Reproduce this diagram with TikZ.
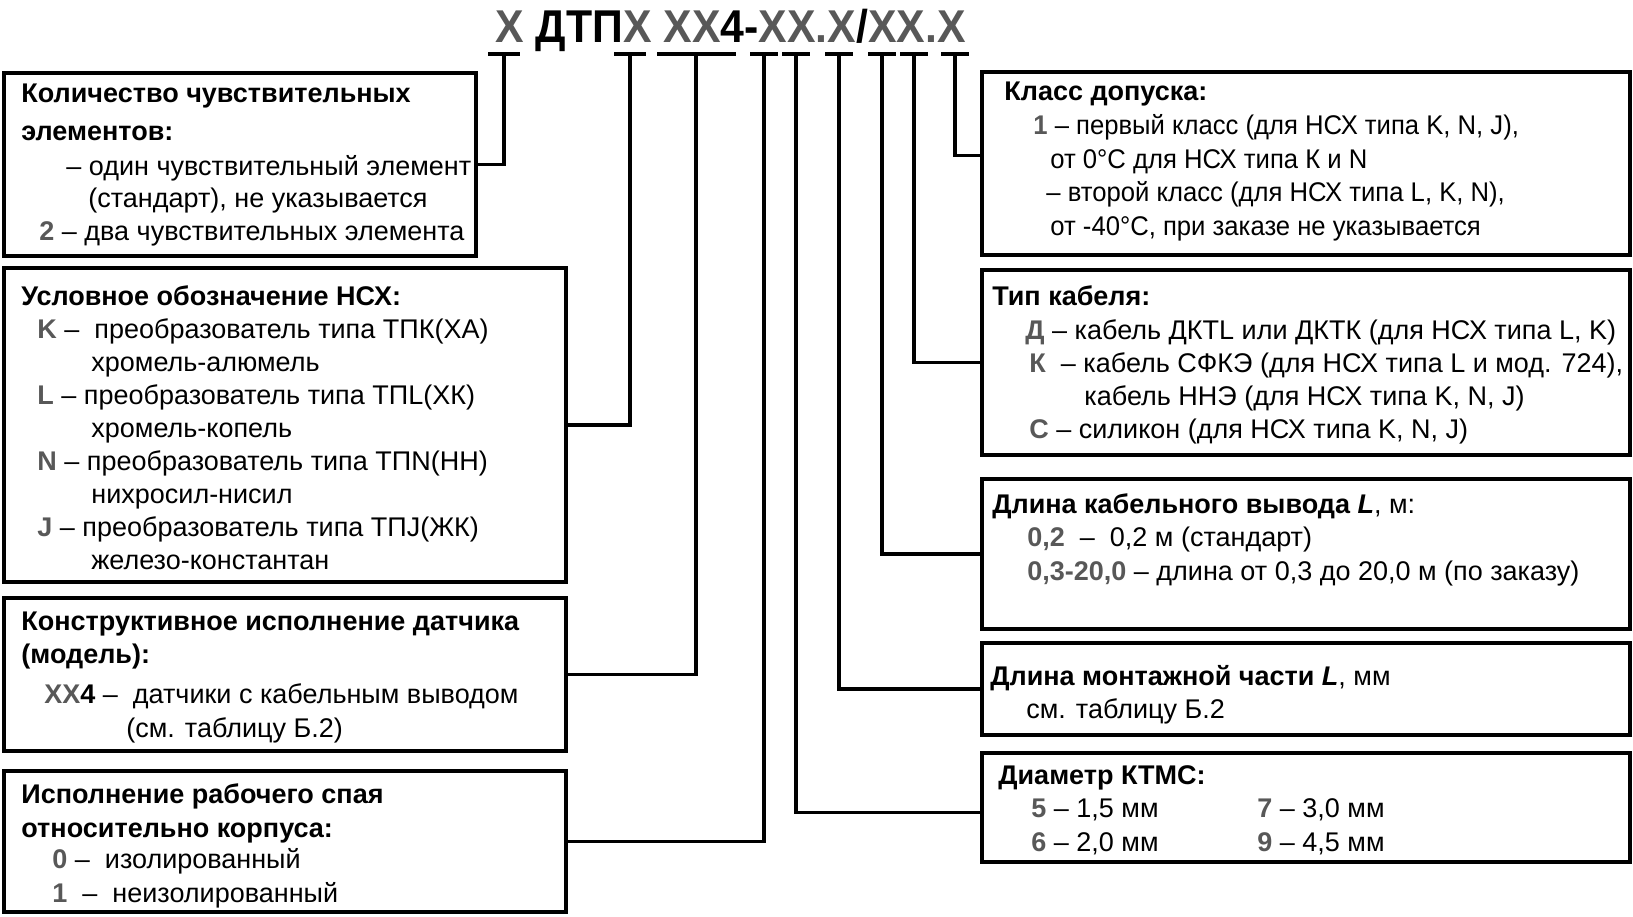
\documentclass[tikz,border=0pt]{standalone}
\usepackage{fontspec}
\setmainfont{Liberation Sans}
\newfontfamily\narrowfont[FakeStretch=0.95]{Liberation Sans}
\newfontfamily\titlefont[FakeStretch=0.93]{Liberation Sans}
\usetikzlibrary{fit}
\definecolor{CodeGray}{RGB}{88,88,88}
\newcommand{\codeval}[1]{\textbf{\textcolor{CodeGray}{#1}}}
\tikzset{
  boxframe/.style={draw=black,line width=1.8pt,inner sep=0pt,outer sep=0pt},
  link/.style={draw=black,line width=1.8pt},
  txt/.style={anchor=base west,inner sep=0pt,font=\fontsize{13.5pt}{15pt}\selectfont},
  head/.style={txt,font=\fontsize{13.5pt}{15pt}\selectfont\bfseries},
  narrowtxt/.style={txt,font=\fontsize{13.5pt}{15pt}\selectfont\narrowfont},
  codetitle/.style={anchor=base west,inner sep=0pt,font=\fontsize{23pt}{26pt}\selectfont\titlefont\bfseries}
}

\begin{document}
\begin{tikzpicture}[x=0.5pt,y=-0.5pt]
  \useasboundingbox (0,0) rectangle (1633,916);

  % order code
  \node[codetitle] (code) at (495,42) {\codeval{X} ДТП\codeval{X} \codeval{XX}4-\codeval{XX.X}/\codeval{XX.X}};
  \coordinate (t1) at (504,54);
  \coordinate (t2) at (630,54);
  \coordinate (t3) at (696,54);
  \coordinate (t4) at (764,54);
  \coordinate (t5) at (796,54);
  \coordinate (t6) at (839,54);
  \coordinate (t7) at (882,54);
  \coordinate (t8) at (914,54);
  \coordinate (t9) at (955,54);
  \draw[link] ([xshift=-8pt]t1) -- ([xshift=8pt]t1);
  \draw[link] ([xshift=-8pt]t2) -- ([xshift=8pt]t2);
  \draw[link] ([xshift=-19.5pt]t3) -- ([xshift=20pt]t3);
  \draw[link] ([xshift=-7pt]t4) -- ([xshift=7pt]t4);
  \draw[link] ([xshift=-7pt]t5) -- ([xshift=7pt]t5);
  \draw[link] ([xshift=-7pt]t6) -- ([xshift=7pt]t6);
  \draw[link] ([xshift=-7pt]t7) -- ([xshift=7pt]t7);
  \draw[link] ([xshift=-7pt]t8) -- ([xshift=7pt]t8);
  \draw[link] ([xshift=-7pt]t9) -- ([xshift=7pt]t9);

  % left column
  \node[boxframe,fit={(4,73) (476,256)}] (qty) {};
  \node[head] (qty1) at (21,102) {Количество чувствительных};
  \node[head] (qty2) at (21,140) {элементов:};
  \node[txt] (qty3) at (66,175) {– один чувствительный элемент};
  \node[txt] (qty4) at (88,207) {(стандарт), не указывается};
  \node[txt] (qty5) at (39,240) {\codeval{2} – два чувствительных элемента};

  \node[boxframe,fit={(4,268) (566,582)}] (nsx) {};
  \node[head] (nsx1) at (21,305) {Условное обозначение НСХ:};
  \node[txt] (nsx2) at (37,338) {\codeval{K} – \ преобразователь типа ТПК(ХА)};
  \node[txt] (nsx3) at (91,371) {хромель-алюмель};
  \node[txt] (nsx4) at (37,404) {\codeval{L} – преобразователь типа ТПL(ХК)};
  \node[txt] (nsx5) at (91,437) {хромель-копель};
  \node[txt] (nsx6) at (37,470) {\codeval{N} – преобразователь типа ТПN(НН)};
  \node[txt] (nsx7) at (91,503) {нихросил-нисил};
  \node[txt] (nsx8) at (37,536) {\codeval{J} – преобразователь типа ТПJ(ЖК)};
  \node[txt] (nsx9) at (91,569) {железо-константан};

  \node[boxframe,fit={(4,598) (566,751)}] (model) {};
  \node[head] (model1) at (21,630) {Конструктивное исполнение датчика};
  \node[head] (model2) at (21,663) {(модель):};
  \node[txt] (model3) at (44,703) {\codeval{XX}\textbf{4} – \ датчики с кабельным выводом};
  \node[txt] (model4) at (126,737) {(см. таблицу Б.2)};

  \node[boxframe,fit={(4,771) (566,912)}] (junction) {};
  \node[head] (junction1) at (21,803) {Исполнение рабочего спая};
  \node[head] (junction2) at (21,837) {относительно корпуса:};
  \node[txt] (junction3) at (52,868) {\codeval{0} – \ изолированный};
  \node[txt] (junction4) at (52,902) {\codeval{1} \ – \ неизолированный};

  % right column
  \node[boxframe,fit={(982,72) (1630,255)}] (tclass) {};
  \node[head] (tclass1) at (1004,100) {Класс допуска:};
  \node[narrowtxt] (tclass2) at (1033,134) {\codeval{1} – первый класс (для НСХ типа K, N, J),};
  \node[narrowtxt] (tclass3) at (1050,168) {от 0°С для НСХ типа К и N};
  \node[narrowtxt] (tclass4) at (1046,201) {– второй класс (для НСХ типа L, K, N),};
  \node[narrowtxt] (tclass5) at (1050,235) {от -40°С, при заказе не указывается};

  \node[boxframe,fit={(982,270) (1630,455)}] (cable) {};
  \node[head] (cable1) at (992,305) {Тип кабеля:};
  \node[txt] (cable2) at (1025,339) {\codeval{Д} – кабель ДКТL или ДКТК (для НСХ типа L, K)};
  \node[txt] (cable3) at (1029,372) {\codeval{К} \ – кабель СФКЭ (для НСХ типа L и мод. 724),};
  \node[txt] (cable4) at (1084,405) {кабель ННЭ (для НСХ типа K, N, J)};
  \node[txt] (cable5) at (1029,438) {\codeval{С} – силикон (для НСХ типа K, N, J)};

  \node[boxframe,fit={(982,479) (1630,629)}] (leadlen) {};
  \node[txt] (leadlen1) at (992,513) {\textbf{Длина кабельного вывода \textit{L}}, м:};
  \node[txt] (leadlen2) at (1027,546) {\codeval{0,2} \ – \ 0,2 м (стандарт)};
  \node[txt] (leadlen3) at (1027,580) {\codeval{0,3-20,0} – длина от 0,3 до 20,0 м (по заказу)};

  \node[boxframe,fit={(982,643) (1630,735)}] (mountlen) {};
  \node[txt] (mountlen1) at (990,685) {\textbf{Длина монтажной части \textit{L}}, мм};
  \node[txt] (mountlen2) at (1026,718) {см. таблицу Б.2};

  \node[boxframe,fit={(982,753) (1630,862)}] (diam) {};
  \node[head] (diam1) at (998,784) {Диаметр КТМС:};
  \node[txt] (diam2) at (1031,817) {\codeval{5} – 1,5 мм};
  \node[txt] (diam3) at (1257,817) {\codeval{7} – 3,0 мм};
  \node[txt] (diam4) at (1031,851) {\codeval{6} – 2,0 мм};
  \node[txt] (diam5) at (1257,851) {\codeval{9} – 4,5 мм};

  % connectors
  \draw[link] (t1) |- (qty.east);
  \draw[link] (t2) |- (nsx.east);
  \draw[link] (t3) |- (model.east);
  \draw[link] (t4) |- (junction.east);
  \draw[link] (t5) |- ([yshift=-2.5pt]diam.west);
  \draw[link] (t6) |- (mountlen.west);
  \draw[link] (t7) |- (leadlen.west);
  \draw[link] (t8) |- (cable.west);
  \draw[link] (t9) |- ([yshift=4pt]tclass.west);
\end{tikzpicture}
\end{document}
